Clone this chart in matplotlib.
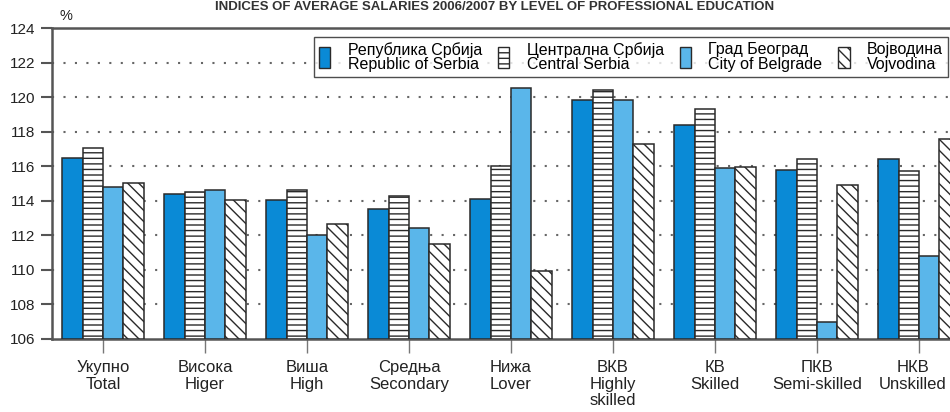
import numpy as np
import matplotlib.pyplot as plt
import matplotlib.transforms as mtransforms
from matplotlib.patches import Patch

plt.rcParams['font.family'] = ['Liberation Sans', 'DejaVu Sans']
plt.rcParams['hatch.linewidth'] = 1.0
plt.rcParams['hatch.color'] = '#333333'

categories = ['Укупно\nTotal', 'Висока\nHiger', 'Виша\nHigh', 'Средња\nSecondary',
              'Нижа\nLover', 'ВКВ\nHighly\nskilled', 'КВ\nSkilled',
              'ПКВ\nSemi-skilled', 'НКВ\nUnskilled']

serbia = [116.5, 114.4, 114.05, 113.5, 114.1, 119.85, 118.4, 115.8, 116.4]
central = [117.05, 114.5, 114.6, 114.25, 116.0, 120.4, 119.3, 116.4, 115.7]
belgrade = [114.8, 114.65, 112.0, 112.45, 120.55, 119.85, 115.9, 107.0, 110.8]
vojvodina = [115.0, 114.05, 112.65, 111.5, 109.95, 117.3, 115.95, 114.9, 117.55]

series_names = ['Република Србија\nRepublic of Serbia', 'Централна Србија\nCentral Serbia',
                'Град Београд\nCity of Belgrade', 'Војводина\nVojvodina']

yticks = [106, 108, 110, 112, 114, 116, 118, 120, 122, 124]

fig = plt.figure(figsize=(9.5, 4.12), dpi=100)
ax = fig.add_axes([52/950, 73/412, 918/950, 311/412])

x = np.arange(len(categories))
w = 0.2
base = 106
styles = [
    dict(color='#0a8ad6', hatch=None),
    dict(color='white', hatch='---'),
    dict(color='#5ab6ea', hatch=None),
    dict(color='white', hatch='\\\\\\'),
]
data = [serbia, central, belgrade, vojvodina]
for i, (vals, st) in enumerate(zip(data, styles)):
    ax.bar(x + (i - 1.5) * w, np.array(vals) - base, width=w, bottom=base,
           color=st['color'], hatch=st['hatch'], edgecolor='#2a2a2a',
           linewidth=1.1, zorder=3)

ax.set_xlim(-0.5, 8.5)
ax.set_ylim(106, 124)
ax.set_yticks(yticks)
ax.set_yticklabels([str(t) for t in yticks], fontsize=11, color='#222222')
ax.set_xticks(x)
ax.set_xticklabels(categories, fontsize=12, color='#222222', linespacing=1.15)
ax.tick_params(axis='y', length=8, width=1.5, color='#555555', pad=4)
ax.tick_params(axis='x', length=10, width=1.0, color='#777777', pad=5)

# last label sits at the cropped right edge, nudge it in a little
last = ax.get_xticklabels()[-1]
last.set_transform(last.get_transform() +
                   mtransforms.ScaledTranslation(-6/100, 0, fig.dpi_scale_trans))

for t in yticks[1:-1]:
    ax.axhline(t, color='#666666', linestyle=(0, (1, 4.5)), linewidth=1.5, zorder=1)

for s in ['top', 'left', 'bottom']:
    ax.spines[s].set_color('#555555')
    ax.spines[s].set_linewidth(1.8)
ax.spines['right'].set_visible(False)

fig.text(66/950, 1 - 16/412, '%', fontsize=10.5, ha='center', va='center', color='#222222')
fig.text(215/950, 1 - 1/412, 'INDICES OF AVERAGE SALARIES 2006/2007 BY LEVEL OF PROFESSIONAL EDUCATION',
         fontsize=9.5, fontweight='bold', ha='left', va='top', color='#333333')

handles = [Patch(facecolor=st['color'], hatch=st['hatch'], edgecolor='#2a2a2a', linewidth=1.0)
           for st in styles]
leg = ax.legend(handles, series_names, ncol=4, loc='upper right',
                bbox_to_anchor=(948/950, 1 - 37/412), bbox_transform=fig.transFigure,
                fontsize=11.5, frameon=True, fancybox=False, handlelength=0.7,
                handleheight=1.6, handletextpad=1.1, columnspacing=1.0,
                borderpad=0.3, borderaxespad=0)
leg.get_frame().set_edgecolor('#222222')
leg.get_frame().set_linewidth(1.0)
for t in leg.get_texts():
    t.set_linespacing(0.95)

fig.savefig('out.png', dpi=100)
